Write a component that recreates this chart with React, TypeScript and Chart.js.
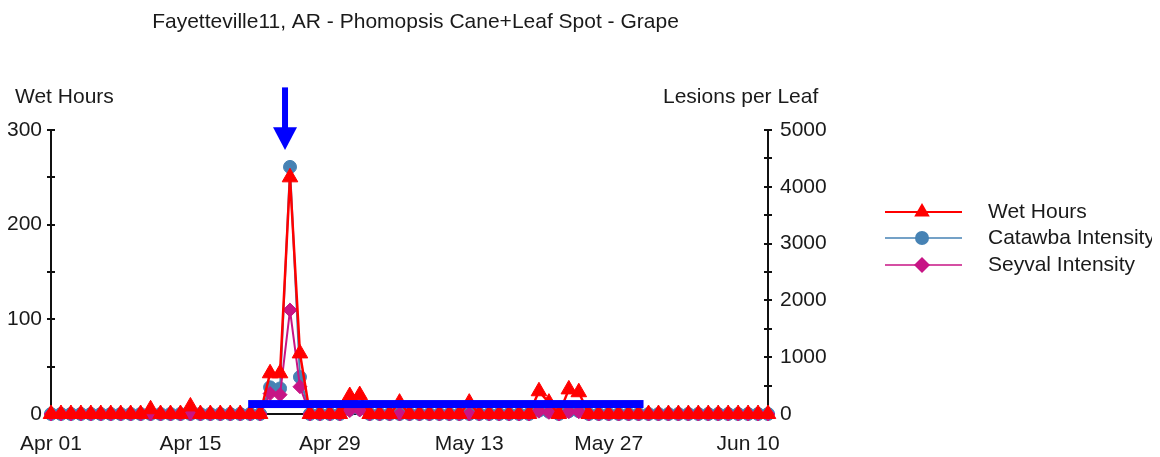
import { useEffect, useRef } from "react";
import { Chart, registerables } from "chart.js";

Chart.register(...registerables);

const TITLE = "Fayetteville11, AR - Phomopsis Cane+Leaf Spot - Grape";
const LEFT_AXIS_TITLE = "Wet Hours";
const RIGHT_AXIS_TITLE = "Lesions per Leaf";
const SERIES_NAMES = ["Wet Hours", "Catawba Intensity", "Seyval Intensity"];

const DATES = [
  "Apr 01", "Apr 02", "Apr 03", "Apr 04", "Apr 05", "Apr 06", "Apr 07", "Apr 08", "Apr 09", "Apr 10",
  "Apr 11", "Apr 12", "Apr 13", "Apr 14", "Apr 15", "Apr 16", "Apr 17", "Apr 18", "Apr 19", "Apr 20",
  "Apr 21", "Apr 22", "Apr 23", "Apr 24", "Apr 25", "Apr 26", "Apr 27", "Apr 28", "Apr 29", "Apr 30",
  "May 01", "May 02", "May 03", "May 04", "May 05", "May 06", "May 07", "May 08", "May 09", "May 10",
  "May 11", "May 12", "May 13", "May 14", "May 15", "May 16", "May 17", "May 18", "May 19", "May 20",
  "May 21", "May 22", "May 23", "May 24", "May 25", "May 26", "May 27", "May 28", "May 29", "May 30",
  "May 31", "Jun 01", "Jun 02", "Jun 03", "Jun 04", "Jun 05", "Jun 06", "Jun 07", "Jun 08", "Jun 09",
  "Jun 10", "Jun 11", "Jun 12",
];

const TICK_LABELS = ["Apr 01", "Apr 15", "Apr 29", "May 13", "May 27", "Jun 10"];

const WET_HOURS = [
  0, 0, 0, 0, 0, 0, 0, 0, 0, 0,
  5, 0, 0, 0, 8, 0, 0, 0, 0, 0,
  0, 0, 43, 43, 250, 64, 0, 0, 0, 0,
  19, 20, 0, 0, 0, 12, 0, 0, 0, 0,
  0, 0, 12, 0, 0, 0, 0, 0, 0, 24,
  12, 0, 26, 23, 0, 0, 0, 0, 0, 0,
  0, 0, 0, 0, 0, 0, 0, 0, 0, 0,
  0, 0, 0,
];

const CATAWBA = [
  0, 0, 0, 0, 0, 0, 0, 0, 0, 0,
  0, 0, 0, 0, 0, 0, 0, 0, 0, 0,
  0, 0, 470, 450, 4350, 650, 0, 0, 0, 0,
  80, 90, 0, 0, 0, 0, 0, 0, 0, 0,
  0, 0, 0, 0, 0, 0, 0, 0, 0, 60,
  40, 0, 50, 50, 0, 0, 0, 0, 0, 0,
  0, 0, 0, 0, 0, 0, 0, 0, 0, 0,
  0, 0, 0,
];

const SEYVAL = [
  0, 0, 0, 0, 0, 0, 0, 0, 0, 0,
  0, 0, 0, 0, 0, 0, 0, 0, 0, 0,
  0, 0, 360, 340, 1830, 480, 0, 0, 0, 0,
  60, 70, 0, 0, 0, 0, 0, 0, 0, 0,
  0, 0, 0, 0, 0, 0, 0, 0, 0, 50,
  30, 0, 40, 40, 0, 0, 0, 0, 0, 0,
  0, 0, 0, 0, 0, 0, 0, 0, 0, 0,
  0, 0, 0,
];

// annotation: highlight bar (day index range, left-axis level) and arrow (day index, left-axis levels)
const HIGHLIGHT_RANGE = [19.8, 59.5];
const HIGHLIGHT_LEVEL = 10.5;
const ARROW_INDEX = 23.5;
const ARROW_LEVELS = [345, 303, 279]; // shaft top, head base, tip

const RED = "#FF0000";
const BLUE = "#4682B4";
const MAGENTA = "#C71585";
const AXIS = "#111111";
const TEXT = "#1a1a1a";
const FONT_FAMILY = "'Liberation Sans', Arial, sans-serif";
const FONT_SIZE = 21;

function drawMarker(ctx: CanvasRenderingContext2D, style: string, x: number, y: number, r: number, color: string) {
  ctx.save();
  ctx.fillStyle = color;
  ctx.strokeStyle = color;
  ctx.beginPath();
  if (style === "triangle") {
    const a = Math.PI * 2 / 3;
    ctx.moveTo(x, y - r);
    ctx.lineTo(x + Math.sin(a) * r, y - Math.cos(a) * r);
    ctx.lineTo(x + Math.sin(2 * a) * r, y - Math.cos(2 * a) * r);
    ctx.closePath();
  } else if (style === "rectRot") {
    ctx.moveTo(x - r, y);
    ctx.lineTo(x, y - r);
    ctx.lineTo(x + r, y);
    ctx.lineTo(x, y + r);
    ctx.closePath();
  } else {
    ctx.arc(x, y, r, 0, Math.PI * 2);
  }
  ctx.fill();
  ctx.restore();
}

const overlayPlugin = {
  id: "overlay",
  beforeDatasetsDraw(chart: any) {
    const { ctx, chartArea: a, scales } = chart;
    ctx.save();
    ctx.strokeStyle = AXIS;
    ctx.lineWidth = 2;
    for (const t of scales.y.ticks) {
      const py = Math.round(scales.y.getPixelForValue(t.value));
      ctx.beginPath();
      ctx.moveTo(a.left, py);
      ctx.lineTo(a.left + 4, py);
      ctx.stroke();
    }
    for (const t of scales.y1.ticks) {
      const py = Math.round(scales.y1.getPixelForValue(t.value));
      ctx.beginPath();
      ctx.moveTo(a.right - 4, py);
      ctx.lineTo(a.right, py);
      ctx.stroke();
    }
    ctx.restore();
  },
  afterDraw(chart: any) {
    const { ctx, chartArea: a, scales } = chart;
    const x = scales.x;
    const y = scales.y;
    ctx.save();

    // highlight bar
    const bx0 = x.getPixelForValue(HIGHLIGHT_RANGE[0]);
    const bx1 = x.getPixelForValue(HIGHLIGHT_RANGE[1]);
    const by = y.getPixelForValue(HIGHLIGHT_LEVEL);
    ctx.fillStyle = "#0000FF";
    ctx.fillRect(bx0, by - 4, bx1 - bx0, 8);

    // arrow
    const ax = x.getPixelForValue(ARROW_INDEX);
    const aTop = y.getPixelForValue(ARROW_LEVELS[0]);
    const aHead = y.getPixelForValue(ARROW_LEVELS[1]);
    const aTip = y.getPixelForValue(ARROW_LEVELS[2]);
    ctx.fillRect(ax - 3, aTop, 6, aHead - aTop + 1);
    ctx.beginPath();
    ctx.moveTo(ax - 12, aHead);
    ctx.lineTo(ax + 12, aHead);
    ctx.lineTo(ax, aTip);
    ctx.closePath();
    ctx.fill();

    // texts
    ctx.fillStyle = TEXT;
    ctx.font = `${FONT_SIZE}px ${FONT_FAMILY}`;
    ctx.textBaseline = "middle";
    ctx.textAlign = "center";
    ctx.fillText(TITLE, (a.left + a.right) / 2 + 6, 14);
    ctx.textAlign = "left";
    ctx.fillText(LEFT_AXIS_TITLE, 7, 89);
    ctx.fillText(RIGHT_AXIS_TITLE, a.right - 105, 89);

    // legend
    const styles = [
      { color: RED, style: "triangle", r: 9, w: 2 },
      { color: BLUE, style: "circle", r: 7, w: 1.5 },
      { color: MAGENTA, style: "rectRot", r: 8, w: 1.5 },
    ];
    const rowYs = [a.top + 82, a.top + 108, a.top + 135];
    styles.forEach((s, i) => {
      const ry = rowYs[i];
      ctx.strokeStyle = s.color;
      ctx.lineWidth = s.w;
      ctx.beginPath();
      ctx.moveTo(a.right + 117, ry);
      ctx.lineTo(a.right + 194, ry);
      ctx.stroke();
      drawMarker(ctx, s.style, a.right + 154, ry, s.r, s.color);
      ctx.fillStyle = TEXT;
      ctx.fillText(SERIES_NAMES[i], a.right + 220, ry);
    });
    ctx.restore();
  },
};

export default function App() {
  const canvasRef = useRef<HTMLCanvasElement | null>(null);

  useEffect(() => {
    if (!canvasRef.current) return;
    const font = { family: FONT_FAMILY, size: FONT_SIZE };
    const chart = new Chart(canvasRef.current, {
      type: "line",
      data: {
        labels: DATES,
        datasets: [
          {
            label: SERIES_NAMES[0],
            data: WET_HOURS,
            yAxisID: "y",
            borderColor: RED,
            backgroundColor: RED,
            borderWidth: 2.5,
            pointStyle: "triangle",
            pointRadius: 9,
            pointBorderWidth: 1,
            tension: 0,
            clip: false,
            order: 0,
          },
          {
            label: SERIES_NAMES[1],
            data: CATAWBA,
            yAxisID: "y1",
            borderColor: BLUE,
            backgroundColor: BLUE,
            borderWidth: 2,
            pointStyle: "circle",
            pointRadius: 6.5,
            pointBorderWidth: 1,
            tension: 0,
            clip: false,
            order: 2,
          },
          {
            label: SERIES_NAMES[2],
            data: SEYVAL,
            yAxisID: "y1",
            borderColor: MAGENTA,
            backgroundColor: MAGENTA,
            borderWidth: 2,
            pointStyle: "rectRot",
            pointRadius: 7,
            pointBorderWidth: 1,
            tension: 0,
            clip: false,
            order: 1,
          },
        ],
      },
      options: {
        animation: false,
        responsive: true,
        maintainAspectRatio: false,
        events: [],
        layout: { padding: { left: 0, top: 122, right: 324, bottom: 0 } },
        plugins: {
          legend: { display: false },
          title: { display: false },
          tooltip: { enabled: false },
        },
        scales: {
          x: {
            type: "category",
            offset: false,
            grid: { display: false, drawTicks: false },
            border: { display: true, color: AXIS, width: 2 },
            ticks: {
              autoSkip: false,
              maxRotation: 0,
              minRotation: 0,
              padding: 18,
              color: TEXT,
              font,
              callback: (_v: any, i: number) => (TICK_LABELS.includes(DATES[i]) ? DATES[i] : ""),
            },
            afterFit: (s: any) => {
              s.height = 43;
              s.paddingLeft = 0;
              s.paddingRight = 0;
            },
          },
          y: {
            position: "left",
            min: 0,
            max: 300,
            grid: { display: true, drawOnChartArea: false, drawTicks: true, tickLength: 4, color: AXIS, lineWidth: 2 },
            border: { display: true, color: AXIS, width: 2 },
            ticks: {
              stepSize: 50,
              padding: 5,
              color: TEXT,
              font,
              callback: (v: any) => (Number(v) % 100 === 0 ? String(v) : ""),
            },
            afterFit: (s: any) => {
              s.width = 43;
            },
          },
          y1: {
            position: "right",
            min: 0,
            max: 5000,
            grid: { display: true, drawOnChartArea: false, drawTicks: true, tickLength: 4, color: AXIS, lineWidth: 2 },
            border: { display: true, color: AXIS, width: 2 },
            ticks: {
              stepSize: 500,
              padding: 8,
              color: TEXT,
              font,
              callback: (v: any) => (Number(v) % 1000 === 0 ? String(v) : ""),
            },
            afterFit: (s: any) => {
              s.width = 60;
            },
          },
        },
      },
      plugins: [overlayPlugin],
    });
    return () => chart.destroy();
  }, []);

  return (
    <div style={{ position: "relative", width: "1144px", height: "449px" }}>
      <canvas ref={canvasRef} />
    </div>
  );
}
